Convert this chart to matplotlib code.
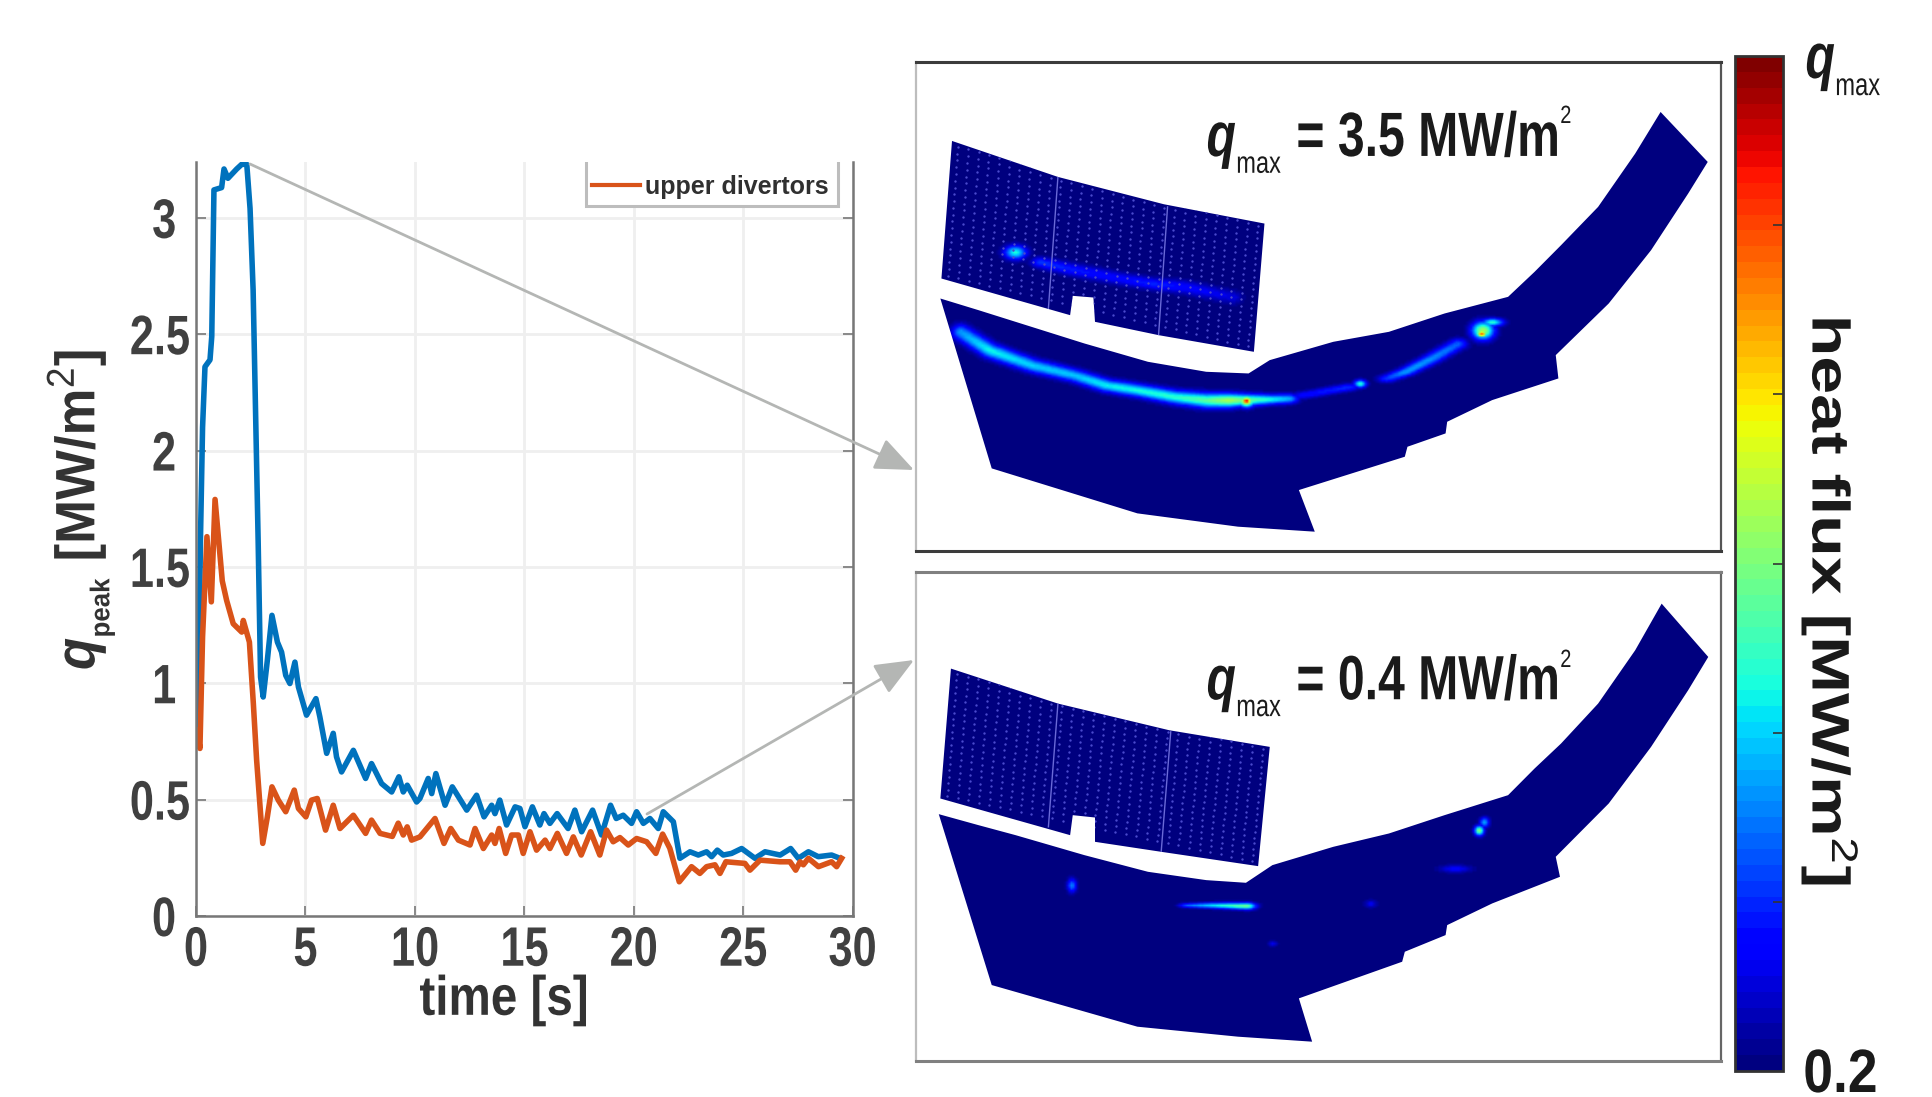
import numpy as np
import matplotlib
matplotlib.use('Agg')
import matplotlib.pyplot as plt
from matplotlib.patches import Polygon, Rectangle
from matplotlib.lines import Line2D
from matplotlib.cm import ScalarMappable
from matplotlib.colors import Normalize
from matplotlib.patheffects import AbstractPathEffect
from matplotlib.transforms import Affine2D

FONT = 'Liberation Sans'
plt.rcParams['font.family'] = [FONT, 'DejaVu Sans']
plt.rcParams['mathtext.fontset'] = 'custom'
plt.rcParams['mathtext.rm'] = FONT
plt.rcParams['mathtext.it'] = FONT + ':italic:bold'
plt.rcParams['mathtext.bf'] = FONT + ':bold'

# ---------- time traces ----------
blue_t = [0.0,0.1,0.2,0.3,0.41,0.64,0.72,0.82,1.17,1.28,1.46,1.86,2.09,2.32,2.47,2.61,2.84,2.95,3.07,3.26,3.47,3.72,3.91,4.10,4.29,4.52,4.68,5.05,5.48,5.66,5.97,6.27,6.42,6.65,7.19,7.75,8.02,8.48,8.94,9.27,9.47,9.65,10.08,10.23,10.61,10.77,10.96,11.38,11.71,12.37,12.82,13.16,13.51,13.66,13.88,14.19,14.58,14.8,15.03,15.37,15.71,15.9,16.17,16.5,17.0,17.31,17.62,18.12,18.53,18.94,19.2,19.52,19.9,20.13,20.44,20.74,21.12,21.35,21.81,22.11,22.57,22.95,23.33,23.56,23.82,24.09,24.47,24.93,25.54,26.0,26.69,27.17,27.52,27.98,28.43,29.04,29.42]
blue_v = [0.75,0.785,1.6,2.1,2.36,2.39,2.49,3.12,3.13,3.21,3.17,3.21,3.23,3.23,3.04,2.69,1.61,1.027,0.941,1.099,1.292,1.177,1.134,1.034,0.999,1.091,0.984,0.863,0.934,0.855,0.699,0.785,0.684,0.619,0.712,0.591,0.655,0.569,0.533,0.598,0.533,0.562,0.49,0.505,0.591,0.526,0.612,0.476,0.555,0.455,0.519,0.426,0.476,0.44,0.498,0.391,0.469,0.462,0.384,0.469,0.391,0.44,0.398,0.44,0.376,0.455,0.362,0.455,0.348,0.476,0.419,0.433,0.398,0.448,0.398,0.419,0.376,0.448,0.405,0.248,0.276,0.262,0.276,0.255,0.283,0.262,0.269,0.29,0.248,0.276,0.262,0.29,0.248,0.276,0.255,0.262,0.248]
orange_t = [0.05,0.18,0.3,0.5,0.7,0.87,1.2,1.4,1.70,2.09,2.16,2.44,2.62,2.77,3.05,3.26,3.47,3.76,4.10,4.49,4.68,5.02,5.28,5.54,5.92,6.27,6.58,7.19,7.75,8.02,8.41,8.97,9.24,9.47,9.65,9.85,10.23,10.92,11.33,11.64,11.99,12.52,12.75,13.13,13.51,13.66,13.85,14.15,14.42,14.73,14.95,15.26,15.56,15.95,16.17,16.51,16.93,17.24,17.6,18.03,18.45,18.76,19.06,19.37,19.75,20.13,20.59,21.01,21.32,21.65,22.08,22.64,23.02,23.33,23.71,23.94,24.21,25.08,25.31,25.77,26.68,27.14,27.4,27.6,27.75,27.98,28.44,29.04,29.27,29.5]
orange_v = [0.8,0.72,1.2,1.63,1.35,1.79,1.44,1.356,1.256,1.22,1.27,1.177,0.913,0.67,0.312,0.426,0.555,0.498,0.448,0.541,0.462,0.426,0.498,0.505,0.369,0.476,0.376,0.433,0.355,0.412,0.355,0.342,0.399,0.348,0.383,0.326,0.34,0.419,0.312,0.376,0.326,0.305,0.376,0.29,0.348,0.312,0.376,0.269,0.348,0.348,0.269,0.362,0.283,0.326,0.29,0.355,0.269,0.34,0.262,0.362,0.262,0.369,0.319,0.337,0.305,0.333,0.319,0.269,0.352,0.291,0.147,0.212,0.183,0.212,0.22,0.183,0.233,0.226,0.197,0.24,0.233,0.233,0.197,0.233,0.22,0.248,0.212,0.233,0.212,0.248]
x_ticks = [0, 5, 10, 15, 20, 25, 30]
y_ticks = [0, 0.5, 1, 1.5, 2, 2.5, 3]
y_tick_labels = ['0', '0.5', '1', '1.5', '2', '2.5', '3']

# ---------- divertor outlines, in panel units ----------
upper_tile = [(80,272),(280,380),(480,462),(670,520),(650,905),(470,855),(350,815),(347,742),(308,737),(303,795),(60,685)]
upper_plate = [(58,745),(130,780),(200,815),(330,880),(450,935),(560,965),(640,970),(680,930),(800,875),(905,845),(1010,790),(1130,740),(1180,665),(1230,585),(1300,470),(1370,310),(1418,185),(1507,335),(1470,430),(1400,600),(1320,760),(1220,915),(1225,985),(1100,1050),(1015,1115),(1012,1150),(940,1190),(935,1220),(735,1320),(765,1445),(620,1430),(430,1390),(155,1255)]
lower_tile = [(78,325),(280,430),(490,510),(680,560),(658,918),(475,875),(350,845),(350,772),(308,765),(303,825),(58,715)]
lower_plate = [(55,762),(130,795),(200,825),(330,885),(450,935),(560,960),(635,968),(685,915),(800,860),(905,820),(1010,765),(1130,705),(1180,625),(1230,550),(1300,430),(1370,270),(1420,130),(1508,290),(1470,390),(1400,560),(1320,730),(1220,890),(1228,950),(1100,1030),(1015,1095),(1012,1125),(935,1175),(930,1205),(735,1315),(760,1445),(620,1430),(430,1400),(155,1275)]
upper_seams = [((280,380),(262,775)), ((487,470),(470,855))]
lower_seams = [((280,430),(262,800)), ((493,515),(475,875))]

# heat bands: x, y, level (0-1 of the colour scale), half-thickness
upper_bands = [
    [(95,845,.28,16),(150,900,.37,15),(230,945,.33,14),(310,975,.32,13),(370,1005,.36,13),(430,1020,.38,13),(500,1040,.40,14),(560,1050,.46,15),(600,1050,.55,14),(680,1047,.38,10),(715,1045,.30,10)],
    [(740,1035,.13,8),(830,1010,.17,8)],
    [(900,985,.18,8),(935,965,.28,8),(985,925,.27,10),(1035,880,.22,11)],
    [(245,635,.18,11),(300,655,.15,13),(400,685,.13,13),(460,700,.16,12),(520,710,.13,14),(610,740,.09,14)],
]
lower_bands = [[(525,1035,.22,5),(570,1035,.34,6),(635,1037,.48,7)]]
# hot spots: x, y, level, spread x, spread y
upper_spots = [(635,1052,.95,6,6),(635,1052,.70,10,12),(850,1000,.40,8,8),(1080,850,.82,7,7),(1082,840,.55,14,18),(1100,815,.40,14,8),(198,605,.38,14,14)]
lower_spots = [(305,975,.25,6,14),(1075,810,.52,6,10),(1085,785,.30,6,10),(1030,925,.12,20,8),(870,1030,.10,8,8),(685,1150,.10,6,6)]

colorbar_ticks = [1/6, 2/6, 3/6, 4/6, 5/6]

W, H = 1933, 1097
fig = plt.figure(figsize=(W/100, H/100), dpi=100, facecolor='white')


class Squeeze(AbstractPathEffect):
    """Draw a text narrower or wider along its baseline (by a factor or to a pixel length)."""
    def __init__(self, sx=None, width=None, anchor=0.5):
        super().__init__()
        self.sx, self.width, self.anchor = sx, width, anchor

    def draw_path(self, renderer, gc, tpath, affine, rgbFace=None):
        ext = tpath.get_extents()
        sx = self.sx
        if self.width is not None:
            p = affine.transform([(ext.x0, 0), (ext.x1, 0)])
            sx = self.width / np.hypot(*(p[1] - p[0]))
        px = ext.x0 + self.anchor * (ext.x1 - ext.x0)
        pre = Affine2D().translate(-px, 0).scale(sx, 1).translate(px, 0)
        renderer.draw_path(gc, tpath, pre + affine, rgbFace)


def box(l, t, r, b):
    return [l/W, 1-b/H, (r-l)/W, (b-t)/H]


# ---------- time-trace panel ----------
ax = fig.add_axes(box(196, 162, 852.6, 916))
ax.plot(blue_t, blue_v, color='#0072BD', lw=4.0, solid_joinstyle='round')
ax.plot(orange_t, orange_v, color='#D95319', lw=4.0, solid_joinstyle='round')
ax.set_xlim(0, 30)
ax.set_ylim(0, 3.24)
ax.set_xticks(x_ticks)
ax.set_yticks(y_ticks)
ax.set_yticklabels(y_tick_labels)
ax.grid(True, color='#efefef', lw=2)
ax.set_axisbelow(True)
ax.tick_params(axis='both', direction='in', length=7, width=1.2, color='#777777',
               labelcolor='#404040', labelsize=40, right=True)
ax.tick_params(axis='x', pad=7)
for lab in ax.get_xticklabels():
    lab.set_fontweight('bold')
    lab.set_path_effects([Squeeze(sx=0.78, anchor=0.5)])
for lab in ax.get_yticklabels():
    lab.set_fontweight('bold')
    lab.set_path_effects([Squeeze(sx=0.78, anchor=1.0)])
for tick, lab in zip(ax.yaxis.get_major_ticks(), y_tick_labels):
    tick.set_pad(4 if '.' in lab else 14)
ax.spines['top'].set_visible(False)
for s in ('left', 'bottom', 'right'):
    ax.spines[s].set_color('#777777')
    ax.spines[s].set_linewidth(1.8)
ax.set_xlabel('time [s]', fontsize=40, fontweight='bold', color='#333333',
              path_effects=[Squeeze(width=166)])
ax.xaxis.set_label_coords((504-196)/656.6, -0.078)
ax.set_ylabel(r'$\mathit{q}_{{}_{\mathbf{peak}}}$ [MW/m$^{2}$]', fontsize=40, fontweight='bold',
              color='#333333', path_effects=[Squeeze(width=317)])
ax.yaxis.set_label_coords(-0.12, (916-510)/754)
# legend frame runs off the top of the axes, as in the original
ax.add_patch(Rectangle(((586-196)/656.6, (916-206)/754), 252/656.6, 60/754, transform=ax.transAxes,
                       facecolor='white', edgecolor='#bdbdbd', lw=2.2, zorder=4))
leg = ax.legend(handles=[Line2D([], [], color='#D95319', lw=3.0)], labels=['upper divertors'],
                loc='center left', bbox_to_anchor=((586-196)/656.6, (916-187)/754), borderaxespad=0,
                frameon=False, prop={'family': FONT, 'weight': 'bold', 'size': 18},
                handlelength=1.92, handletextpad=0.2, borderpad=0.24)
leg.set_zorder(5)
for t in leg.get_texts():
    t.set_color('#303030')


# ---------- divertor maps ----------
def draw_map(rect, tile, plate, seams, bands, spots, frame_tb, frame_r):
    a = fig.add_axes(rect)
    xs = np.arange(12, 1533, 4.0)
    ys = np.arange(35, 1503, 5.0)
    gx, gy = np.meshgrid(xs, ys)
    field = np.zeros_like(gx)
    all_spots = list(spots)
    for band in bands:
        b = np.array(band, float)
        u = np.linspace(0, len(b)-1, 24*len(b))
        idx = np.arange(len(b))
        for bx, by, bv, bs in zip(*(np.interp(u, idx, b[:, k]) for k in range(4))):
            all_spots.append((bx, by, bv, 12, bs))
    for x0, y0, v, sx, sy in all_spots:
        field = np.maximum(field, v*np.exp(-((gx-x0)/sx)**2/2 - ((gy-y0)/sy)**2/2))
    jet = plt.get_cmap('jet', 64)
    for outline in (tile, plate):
        im = a.imshow(field, extent=(12, 1533, 1503, 35), cmap=jet, vmin=0, vmax=1,
                      aspect='auto', interpolation='bilinear')
        patch = Polygon(outline, closed=True, transform=a.transData, facecolor='none', edgecolor='none')
        a.add_patch(patch)
        im.set_clip_path(patch)
    a.set_xlim(12, 1533)
    a.set_ylim(1503, 35)
    a.set_xticks([]); a.set_yticks([])
    tile_patch = Polygon(tile, closed=True, transform=a.transData, facecolor='none', edgecolor='none')
    a.add_patch(tile_patch)
    for p, q in seams:
        ln, = a.plot([p[0], q[0]], [p[1], q[1]], color='#6a6ad8', lw=1.0)
        ln.set_clip_path(tile_patch)
    c = np.array([tile[0], tile[3], tile[4], tile[-1]], float)
    s, r = np.meshgrid(np.linspace(0.02, 0.98, 30), np.linspace(0.03, 0.97, 20))
    lx = (1-s)*(1-r)*c[0,0] + s*(1-r)*c[1,0] + s*r*c[2,0] + (1-s)*r*c[3,0]
    ly = (1-s)*(1-r)*c[0,1] + s*(1-r)*c[1,1] + s*r*c[2,1] + (1-s)*r*c[3,1]
    dots = a.scatter(lx.ravel(), ly.ravel(), s=3, color='#4a4acc', linewidths=0)
    dots.set_clip_path(tile_patch)
    for sp in ('top', 'bottom'):
        a.spines[sp].set_color(frame_tb); a.spines[sp].set_linewidth(2.2)
    a.spines['right'].set_color(frame_r); a.spines['right'].set_linewidth(1.6)
    a.spines['left'].set_color('#bdbdbd'); a.spines['left'].set_linewidth(1.6)
    return a


top = draw_map(box(916, 62, 1721.5, 551), upper_tile, upper_plate, upper_seams, upper_bands, upper_spots, '#3c3c3c', '#555555')
bot = draw_map(box(916, 572, 1721.5, 1061), lower_tile, lower_plate, lower_seams, lower_bands, lower_spots, '#808080', '#666666')
top.text(893, 318, r'$\mathit{q}_{{}_{\mathrm{max}}}$ = 3.5 MW/m', ha='center', va='baseline',
         fontsize=45, fontweight='bold', color='#1a1a1a', path_effects=[Squeeze(width=349)])
bot.text(893, 418, r'$\mathit{q}_{{}_{\mathrm{max}}}$ = 0.4 MW/m', ha='center', va='baseline',
         fontsize=45, fontweight='bold', color='#1a1a1a', path_effects=[Squeeze(width=349)])

# ---------- colour bar ----------
cax = fig.add_axes(box(1735, 56, 1783, 1071))
cb = fig.colorbar(ScalarMappable(Normalize(0, 1), plt.get_cmap('jet', 64)), cax=cax, ticks=colorbar_ticks)
cb.ax.tick_params(direction='in', length=7, width=1.2, color='#333333', labelright=False)
cb.outline.set_edgecolor('#333333')
cb.outline.set_linewidth(2)

# ---------- overlay: arrows, superscripts and colour-bar text ----------
ov = fig.add_axes([0, 0, 1, 1], facecolor='none')
ov.set_xlim(0, W); ov.set_ylim(H, 0); ov.axis('off')
arrow = dict(arrowstyle='-|>,head_length=1.0,head_width=0.42', color='#b4b6b4', lw=2,
             mutation_scale=24, shrinkA=0, shrinkB=0)
ov.annotate('', xy=(914, 470), xytext=(250, 164), arrowprops=arrow)
ov.annotate('', xy=(914, 660), xytext=(647, 814), arrowprops=arrow)
ov.text(1560, 123, '2', fontsize=18, ha='left', va='baseline', color='#1a1a1a',
        path_effects=[Squeeze(sx=0.8, anchor=0.0)])
ov.text(1560, 667, '2', fontsize=18, ha='left', va='baseline', color='#1a1a1a',
        path_effects=[Squeeze(sx=0.8, anchor=0.0)])
ov.text(1805, 78, r'$\mathit{q}_{{}_{\mathrm{max}}}$', fontsize=46, ha='left', va='baseline', color='#1a1a1a',
        path_effects=[Squeeze(width=73, anchor=0.0)])
ov.text(1830, 601, 'heat flux [MW/m$^{2}$]', rotation=270, ha='center', va='center', color='#1a1a1a',
        fontsize=38, fontweight='bold', path_effects=[Squeeze(width=565)])
ov.text(1803, 1092, '0.2', fontsize=44, fontweight='bold', ha='left', va='baseline', color='#1a1a1a',
        path_effects=[Squeeze(width=70, anchor=0.0)])

fig.savefig('out.png', dpi=100, facecolor='white')
